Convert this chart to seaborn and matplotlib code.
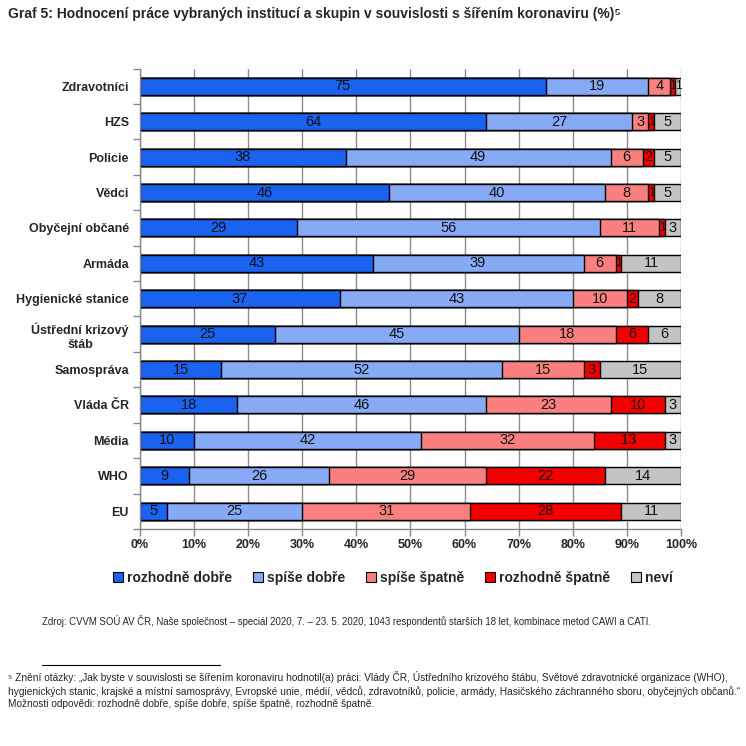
import numpy as np
import pandas as pd
import matplotlib
matplotlib.use("Agg")
import matplotlib.pyplot as plt
import seaborn as sns
from matplotlib.patches import Patch

categories = ["Zdravotníci", "HZS", "Policie", "Vědci", "Obyčejní občané", "Armáda",
              "Hygienické stanice", "Ústřední krizový\nštáb", "Samospráva", "Vláda ČR",
              "Média", "WHO", "EU"]
series_names = ["rozhodně dobře", "spíše dobře", "spíše špatně", "rozhodně špatně", "neví"]
rozhodne_dobre = [75, 64, 38, 46, 29, 43, 37, 25, 15, 18, 10, 9, 5]
spise_dobre = [19, 27, 49, 40, 56, 39, 43, 45, 52, 46, 42, 26, 25]
spise_spatne = [4, 3, 6, 8, 11, 6, 10, 18, 15, 23, 32, 29, 31]
rozhodne_spatne = [1, 1, 2, 1, 1, 1, 2, 6, 3, 10, 13, 22, 28]
nevi = [1, 5, 5, 5, 3, 11, 8, 6, 15, 3, 3, 14, 11]
x_ticks = [0, 10, 20, 30, 40, 50, 60, 70, 80, 90, 100]
x_tick_labels = ["0%", "10%", "20%", "30%", "40%", "50%", "60%", "70%", "80%", "90%", "100%"]

colors = ["#1a62f0", "#86aaf6", "#fa8080", "#f50000", "#c4c4c4"]

title = "Graf 5: Hodnocení práce vybraných institucí a skupin v souvislosti s šířením koronaviru (%)⁵"
source = "Zdroj: CVVM SOÚ AV ČR, Naše společnost – speciál 2020, 7. – 23. 5. 2020, 1043 respondentů starších 18 let, kombinace metod CAWI a CATI."
footnote = ("⁵ Znění otázky: „Jak byste v souvislosti se šířením koronaviru hodnotil(a) práci: Vlády ČR, Ústředního krizového štábu, Světové zdravotnické organizace (WHO),\n"
            "hygienických stanic, krajské a místní samosprávy, Evropské unie, médií, vědců, zdravotníků, policie, armády, Hasičského záchranného sboru, obyčejných občanů.“\n"
            "Možnosti odpovědi: rozhodně dobře, spíše dobře, spíše špatně, rozhodně špatně.")

sns.set_theme(style="white")
plt.rcParams["font.family"] = ["Liberation Sans", "DejaVu Sans"]

values = np.array([rozhodne_dobre, spise_dobre, spise_spatne, rozhodne_spatne, nevi]).T
cum = np.cumsum(values, axis=1)

fig = plt.figure(figsize=(7.46, 7.46), dpi=100)
ax = fig.add_axes([0.1877, 0.291, 0.725, 0.617])

for i in reversed(range(5)):
    df = pd.DataFrame({"cat": categories, "val": cum[:, i]})
    sns.barplot(data=df, x="val", y="cat", color=colors[i], saturation=1,
                edgecolor="black", linewidth=1.0, width=0.48, ax=ax, zorder=2)

for r in range(len(categories)):
    for i in range(5):
        v = values[r, i]
        center = cum[r, i] - v / 2
        fs = 8.5 if v <= 1 else 10.5
        ax.text(center, r, str(v), ha="center", va="center", fontsize=fs,
                color="#111111", zorder=5)

ax.set_xlim(0, 100)
ax.set_ylim(len(categories) - 0.5, -0.5)
ax.set_xticks(x_ticks)
ax.set_xticklabels(x_tick_labels, fontsize=9, fontweight="bold")
ax.set_xlabel("")
ax.set_ylabel("")
for lab in ax.get_yticklabels():
    lab.set_fontweight("bold")
    lab.set_fontsize(9)
    lab.set_multialignment("center")

ax.set_yticks(np.arange(-0.5, len(categories), 1), minor=True)
ax.tick_params(axis="y", which="major", length=0, pad=8)
ax.tick_params(axis="y", which="minor", length=5, color="#888888", width=1, left=True)
ax.tick_params(axis="x", which="major", length=5, color="#888888", width=1, bottom=True, pad=2)

ax.xaxis.grid(True, color="#8c8c8c", linewidth=1)
ax.yaxis.grid(False)
ax.set_axisbelow(True)
for s in ["top", "right"]:
    ax.spines[s].set_visible(False)
for s in ["left", "bottom"]:
    ax.spines[s].set_color("#888888")
    ax.spines[s].set_linewidth(1)

handles = [Patch(facecolor=c, edgecolor="black", linewidth=0.8) for c in colors]
fig.legend(handles, series_names, loc="center", bbox_to_anchor=(0.527, 0.225), ncol=5,
           frameon=False, prop={"weight": "bold", "size": 10}, handlelength=0.7,
           handleheight=0.7, handletextpad=0.3, columnspacing=1.5)

fig.text(0.011, 0.981, title, fontsize=10, fontweight="bold", ha="left", va="center")
fig.text(0.056, 0.167, source, fontsize=6.9, ha="left", va="center")
fig.add_artist(plt.Line2D([0.056, 0.295], [0.109, 0.109], color="black", linewidth=0.8))
fig.text(0.011, 0.075, footnote, fontsize=7.3, ha="left", va="center", linespacing=1.35)

fig.savefig("out.png", dpi=100)
